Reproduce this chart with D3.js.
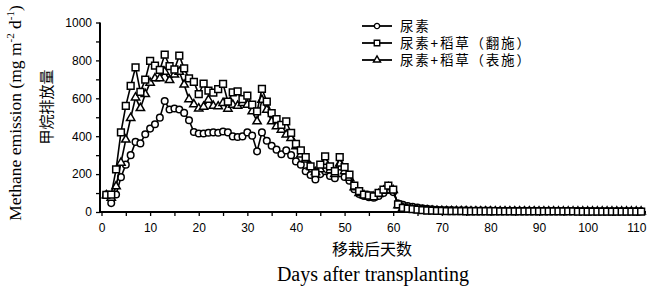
<!DOCTYPE html>
<html>
<head>
<meta charset="utf-8">
<script src="https://cdn.jsdelivr.net/npm/d3@7"></script>
<style>
  body { margin: 0; background: #fff; }
  svg { display: block; }
  .tick text { font-family: "Liberation Sans", Arial, sans-serif; font-size: 12px; fill: #000; }
</style>
</head>
<body>
<div id="chart"></div>
<script>
// Days after transplanting (1..111)
const days = d3.range(1, 112);

// Urea only
const ureaValues = [
  92, 47, 92, 184, 250, 300, 370, 362, 410, 440,
  463, 498, 586, 541, 546, 541, 523, 484, 422, 414,
  414, 418, 420, 418, 425, 420, 399, 396, 399, 420,
  403, 320, 420, 376, 350, 329, 305, 325, 300, 267,
  250, 215, 195, 172, 200, 215, 190, 178, 205, 185,
  165, 120, 95, 85, 78, 75, 85, 100, 118, 105,
  45, 38,
  32, 28, 24, 20, 17, 14, 12, 11, 10, 10,
  9, 9, 9, 8, 8, 8, 8, 8, 7, 7,
  7, 7, 7, 7, 6, 6, 6, 6, 6, 6,
  6, 5, 5, 5, 5, 5, 5, 5, 5, 4,
  4, 4, 4, 4, 4, 4, 4, 4, 4
];

// Urea + straw, incorporated
const incorpValues = [
  90, 92, 225, 420, 560, 665, 763, 634, 698, 798,
  772, 750, 830, 770, 752, 825, 758, 705, 687, 622,
  678, 640, 630, 648, 676, 583, 631, 636, 596, 614,
  566, 531, 650, 583, 522, 490, 460, 478, 417, 360,
  325, 290, 241, 205, 250, 294, 241, 215, 290, 237,
  197, 139, 110, 92, 87, 83, 101, 118, 139, 118,
  40, 22,
  18, 15, 12, 10, 8, 7, 6, 6, 5, 5,
  5, 5, 4, 4, 4, 4, 4, 4, 4, 3,
  3, 3, 3, 3, 3, 3, 3, 3, 3, 3,
  3, 3, 3, 3, 3, 2, 2, 2, 2, 2,
  2, 2, 2, 2, 2, 2, 2, 2, 2
];

// Urea + straw, surface applied
const surfaceValues = [
  88, 75, 135, 260, 382, 496, 604, 548, 622, 682,
  705, 705, 740, 696, 725, 740, 672, 595, 568, 546,
  555, 592, 560, 557, 575, 545, 566, 560, 575, 566,
  531, 478, 592, 539, 478, 452, 434, 408, 390, 346,
  303, 276, 240, 210, 225, 265, 220, 200, 255, 215,
  180, 130, 100, 88, 82, 80, 95, 112, 130, 115,
  35, 22,
  15, 12, 10, 8, 7, 6, 5, 5, 4, 4,
  4, 4, 4, 3, 3, 3, 3, 3, 3, 3,
  3, 3, 3, 3, 3, 3, 3, 2, 2, 2,
  2, 2, 2, 2, 2, 2, 2, 2, 2, 2,
  2, 2, 2, 2, 2, 2, 2, 2, 2
];

const seriesNames = ['尿素', '尿素+稻草（翻施）', '尿素+稻草（表施）'];
const xTickLabels = [0, 10, 20, 30, 40, 50, 60, 70, 80, 90, 100, 110];
const xMinorTicks = [5, 15, 25, 35, 45, 55, 65, 75, 85, 95, 105];
const yTickLabels = [0, 200, 400, 600, 800, 1000];
const yMinorTicks = [100, 300, 500, 700, 900];

const width = 648, height = 286;

const x = d3.scaleLinear().domain([0, 112]).range([101.5, 646]);
const y = d3.scaleLinear().domain([0, 1000]).range([212, 22.5]);

const svg = d3.select('#chart').append('svg')
  .attr('width', width)
  .attr('height', height);

// Axes
const xAxis = d3.axisBottom(x)
  .tickValues(xTickLabels.concat(xMinorTicks))
  .tickFormat(d => xTickLabels.includes(d) ? d : '')
  .tickSize(4).tickSizeOuter(0).tickPadding(7);

const yAxis = d3.axisLeft(y)
  .tickValues(yTickLabels.concat(yMinorTicks))
  .tickFormat(d => yTickLabels.includes(d) ? d : '')
  .tickSize(4).tickSizeOuter(0).tickPadding(4);

const gx = svg.append('g')
  .attr('class', 'x-axis')
  .attr('transform', `translate(0, ${y(0)})`)
  .call(xAxis);
gx.select('.domain').attr('d', `M99,0H646`);

const gy = svg.append('g')
  .attr('class', 'y-axis')
  .attr('transform', 'translate(100, 0)')
  .call(yAxis);
gy.select('.domain').attr('d', `M0,${y(1000)}V${y(0)}`);

svg.selectAll('.domain').attr('stroke', '#000').attr('stroke-width', 2);
svg.selectAll('.tick line').attr('stroke', '#000').attr('stroke-width', 1.3);

// Series (drawn circle, triangle, square so squares sit on top)
const series = [
  { name: seriesNames[0], values: ureaValues, symbol: 'circle' },
  { name: seriesNames[2], values: surfaceValues, symbol: 'triangle' },
  { name: seriesNames[1], values: incorpValues, symbol: 'square' }
];

const line = d3.line()
  .x(d => x(d.day))
  .y(d => y(d.value));

const symbolFor = {
  circle: d3.symbol().type(d3.symbolCircle).size(34),
  square: d3.symbol().type(d3.symbolSquare).size(46),
  triangle: d3.symbol().type(d3.symbolTriangle).size(30)
};

const plot = svg.append('g');

series.forEach(s => {
  const pts = days.map((d, i) => ({ day: d, value: s.values[i] }));
  const g = plot.append('g');
  g.append('path')
    .attr('d', line(pts))
    .attr('fill', 'none')
    .attr('stroke', '#000')
    .attr('stroke-width', 1.6);
  g.selectAll('path.pt')
    .data(pts)
    .enter()
    .append('path')
    .attr('class', 'pt')
    .attr('d', symbolFor[s.symbol])
    .attr('transform', d => `translate(${x(d.day)}, ${y(d.value)})`)
    .attr('fill', '#fff')
    .attr('stroke', '#000')
    .attr('stroke-width', 1.5);
});

// Legend
const legendData = [
  { name: seriesNames[0], symbol: 'circle' },
  { name: seriesNames[1], symbol: 'square' },
  { name: seriesNames[2], symbol: 'triangle' }
];
const legendSym = {
  circle: d3.symbol().type(d3.symbolCircle).size(22),
  square: d3.symbol().type(d3.symbolSquare).size(30),
  triangle: d3.symbol().type(d3.symbolTriangle).size(22)
};

const legend = svg.append('g').attr('class', 'legend');
const key = legend.selectAll('g')
  .data(legendData)
  .enter()
  .append('g')
  .attr('transform', (d, i) => `translate(362, ${26 + i * 17})`);

key.append('line')
  .attr('x1', 0).attr('x2', 30)
  .attr('stroke', '#000').attr('stroke-width', 1.8);
key.append('path')
  .attr('d', d => legendSym[d.symbol]())
  .attr('transform', 'translate(15, 0)')
  .attr('fill', '#fff')
  .attr('stroke', '#000')
  .attr('stroke-width', 1.4);
key.append('text')
  .attr('x', 38)
  .attr('dy', '0.35em')
  .style('font-family', '"Noto Sans CJK SC", sans-serif')
  .style('font-size', '13.5px')
  .style('letter-spacing', '1.8px')
  .text(d => d.name);

// Axis titles
const yTitle = svg.append('text')
  .attr('transform', 'translate(21, 113) rotate(-90)')
  .attr('text-anchor', 'middle')
  .style('font-family', '"Liberation Serif", "Times New Roman", serif')
  .style('font-size', '17.5px');
yTitle.append('tspan').text('Methane emission (mg m');
yTitle.append('tspan').attr('dy', -7).style('font-size', '11px').text('-2');
yTitle.append('tspan').attr('dy', 7).text(' d');
yTitle.append('tspan').attr('dy', -7).style('font-size', '11px').text('-1');
yTitle.append('tspan').attr('dy', 7).text(')');

svg.append('text')
  .attr('transform', 'translate(47, 107) rotate(-90)')
  .attr('text-anchor', 'middle')
  .attr('dy', '0.35em')
  .style('font-family', '"Noto Sans CJK SC", sans-serif')
  .style('font-size', '15px')
  .text('甲烷排放量');

svg.append('text')
  .attr('x', 372).attr('y', 249)
  .attr('text-anchor', 'middle')
  .attr('dy', '0.35em')
  .style('font-family', '"Noto Sans CJK SC", sans-serif')
  .style('font-size', '16px')
  .text('移栽后天数');

svg.append('text')
  .attr('x', 373).attr('y', 274)
  .attr('text-anchor', 'middle')
  .attr('dy', '0.35em')
  .style('font-family', '"Liberation Serif", "Times New Roman", serif')
  .style('font-size', '20px')
  .text('Days after transplanting');
</script>
</body>
</html>
